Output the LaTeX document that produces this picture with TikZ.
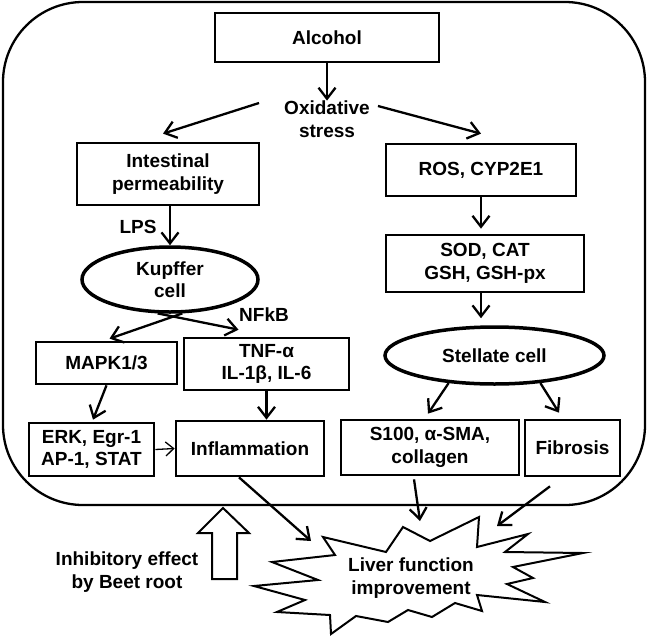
\documentclass[tikz,border=0pt]{standalone}
\usepackage{fontspec}
\setmainfont{Liberation Sans}
\usetikzlibrary{arrows.meta,shapes.geometric,calc}
\begin{document}
\begin{tikzpicture}[x=1pt,y=-1pt,
  font=\fontsize{19}{22.5}\selectfont\bfseries,
  box/.style={draw,line width=2.7pt,align=center,inner sep=0pt},
  oval/.style={draw,ellipse,line width=3.5pt,align=center,inner sep=0pt},
  lbl/.style={align=center,inner sep=0pt},
  arr/.style={line width=2.3pt,-{Straight Barb[length=11pt,width=17pt]}},
  thinarr/.style={line width=1.3pt,-{Straight Barb[length=8pt,width=14pt]}},
  frame/.style={draw,line width=2.3pt,rounded corners=80pt},
  shapeline/.style={draw,line width=2pt,line join=miter}]
\useasboundingbox (0,0) rectangle (648,635);
\draw[frame] (3,2) rectangle (645,505);

\node[box,minimum width=224pt,minimum height=49pt] (alc) at (327,37.5) {Alcohol};
\node[lbl] (ox) at (327,119) {Oxidative\\stress};
\node[box,minimum width=182pt,minimum height=62pt] (int) at (168,174) {Intestinal\\permeability};
\node[box,minimum width=190pt,minimum height=52pt] (ros) at (481,170) {ROS, CYP2E1};
\node[box,minimum width=198pt,minimum height=57pt] (sod) at (485,263.5) {SOD, CAT\\GSH, GSH-px};
\node[oval,minimum width=176pt,minimum height=65pt] (kup) at (170,279.5) {Kupffer\\cell};
\node[oval,minimum width=219pt,minimum height=57pt] (ste) at (494.5,355.5) {Stellate cell};
\node[box,minimum width=141pt,minimum height=42pt] (mapk) at (106.5,363) {MAPK1/3};
\node[box,minimum width=165pt,minimum height=52pt] (tnf) at (266.5,364) {TNF-α\\IL-1β, IL-6};
\node[box,minimum width=125pt,minimum height=53pt] (erk) at (91.5,449.5) {ERK, Egr-1\\AP-1, STAT};
\node[box,minimum width=148pt,minimum height=55pt] (inf) at (250,448.5) {Inflammation};
\node[box,minimum width=178pt,minimum height=55pt] (s100) at (430,447.5) {S100, α-SMA,\\collagen};
\node[box,minimum width=95pt,minimum height=56pt] (fib) at (572.5,448) {Fibrosis};

\node[lbl] (lps) at (138,227) {LPS};
\node[lbl] (nfkb) at (264,315) {NFkB};
\node[lbl] (inh) at (127,572) {Inhibitory effect\\by Beet root};

% starburst
\draw[shapeline] (323,537) -- (386,552) -- (403,527) -- (430,541) -- (479,517) -- (477,547)
  -- (528,534) -- (505,552) -- (583,553) -- (513,567) -- (533,578) -- (507,584) -- (545,602)
  -- (477,595) -- (482,611) -- (455,603) -- (432,617) -- (408,610) -- (388,622) -- (356,616)
  -- (331,634) -- (330,615) -- (277,612) -- (305,600) -- (254,586) -- (318,580) -- (272,562)
  -- (335,555) -- cycle;
\node[lbl] (liv) at (411,578) {Liver function\\improvement};
\coordinate (lvA) at (311,541);
\coordinate (lvB) at (420,521);
\coordinate (lvC) at (497,526);

% block arrow
\draw[shapeline] (223,508) -- (249,533) -- (237,533) -- (237,579) -- (212,579) -- (212,533) -- (198,533) -- cycle;

% connectors
\draw[arr] (alc) -- (ox);
\draw[arr] ($(ox.west)+(-25,-16)$) -- ($(int.north)+(-5,-8)$);
\draw[arr] ($(ox.east)+(8,-13)$) -- ($(ros.north)+(0,-9)$);
\draw[arr] (int.south -| kup.north) -- (kup.north);
\draw[arr,shorten >=5pt] (ros.south) -- (ros.south |- sod.north);
\draw[arr,shorten >=7pt] (sod.south -| ros.south) -- (ros.south |- ste.north);
\draw[arr] (kup.-70) -- ($(mapk.north)+(3,-2)$);
\draw[arr] (kup.-110) -- ($(tnf.north)+(-28,-7)$);
\draw[arr] (mapk.south) -- ($(erk.north)+(1.5,-2)$);
\draw[arr] (tnf.south) -- (tnf.south |- inf.north);
\draw[thinarr] (erk.east) -- (inf.west);
\draw[arr] (ste.211.7) -- ($(s100.north)+(-2,-5)$);
\draw[arr] (ste.329.7) -- ($(fib.north)+(-13.5,-6)$);
\draw[arr] ($(inf.south)+(-11,0)$) -- (lvA);
\draw[arr] ($(s100.south)+(-16,3)$) -- (lvB);
\draw[arr] ($(fib.south)+(-22.5,9)$) -- (lvC);
\end{tikzpicture}
\end{document}
